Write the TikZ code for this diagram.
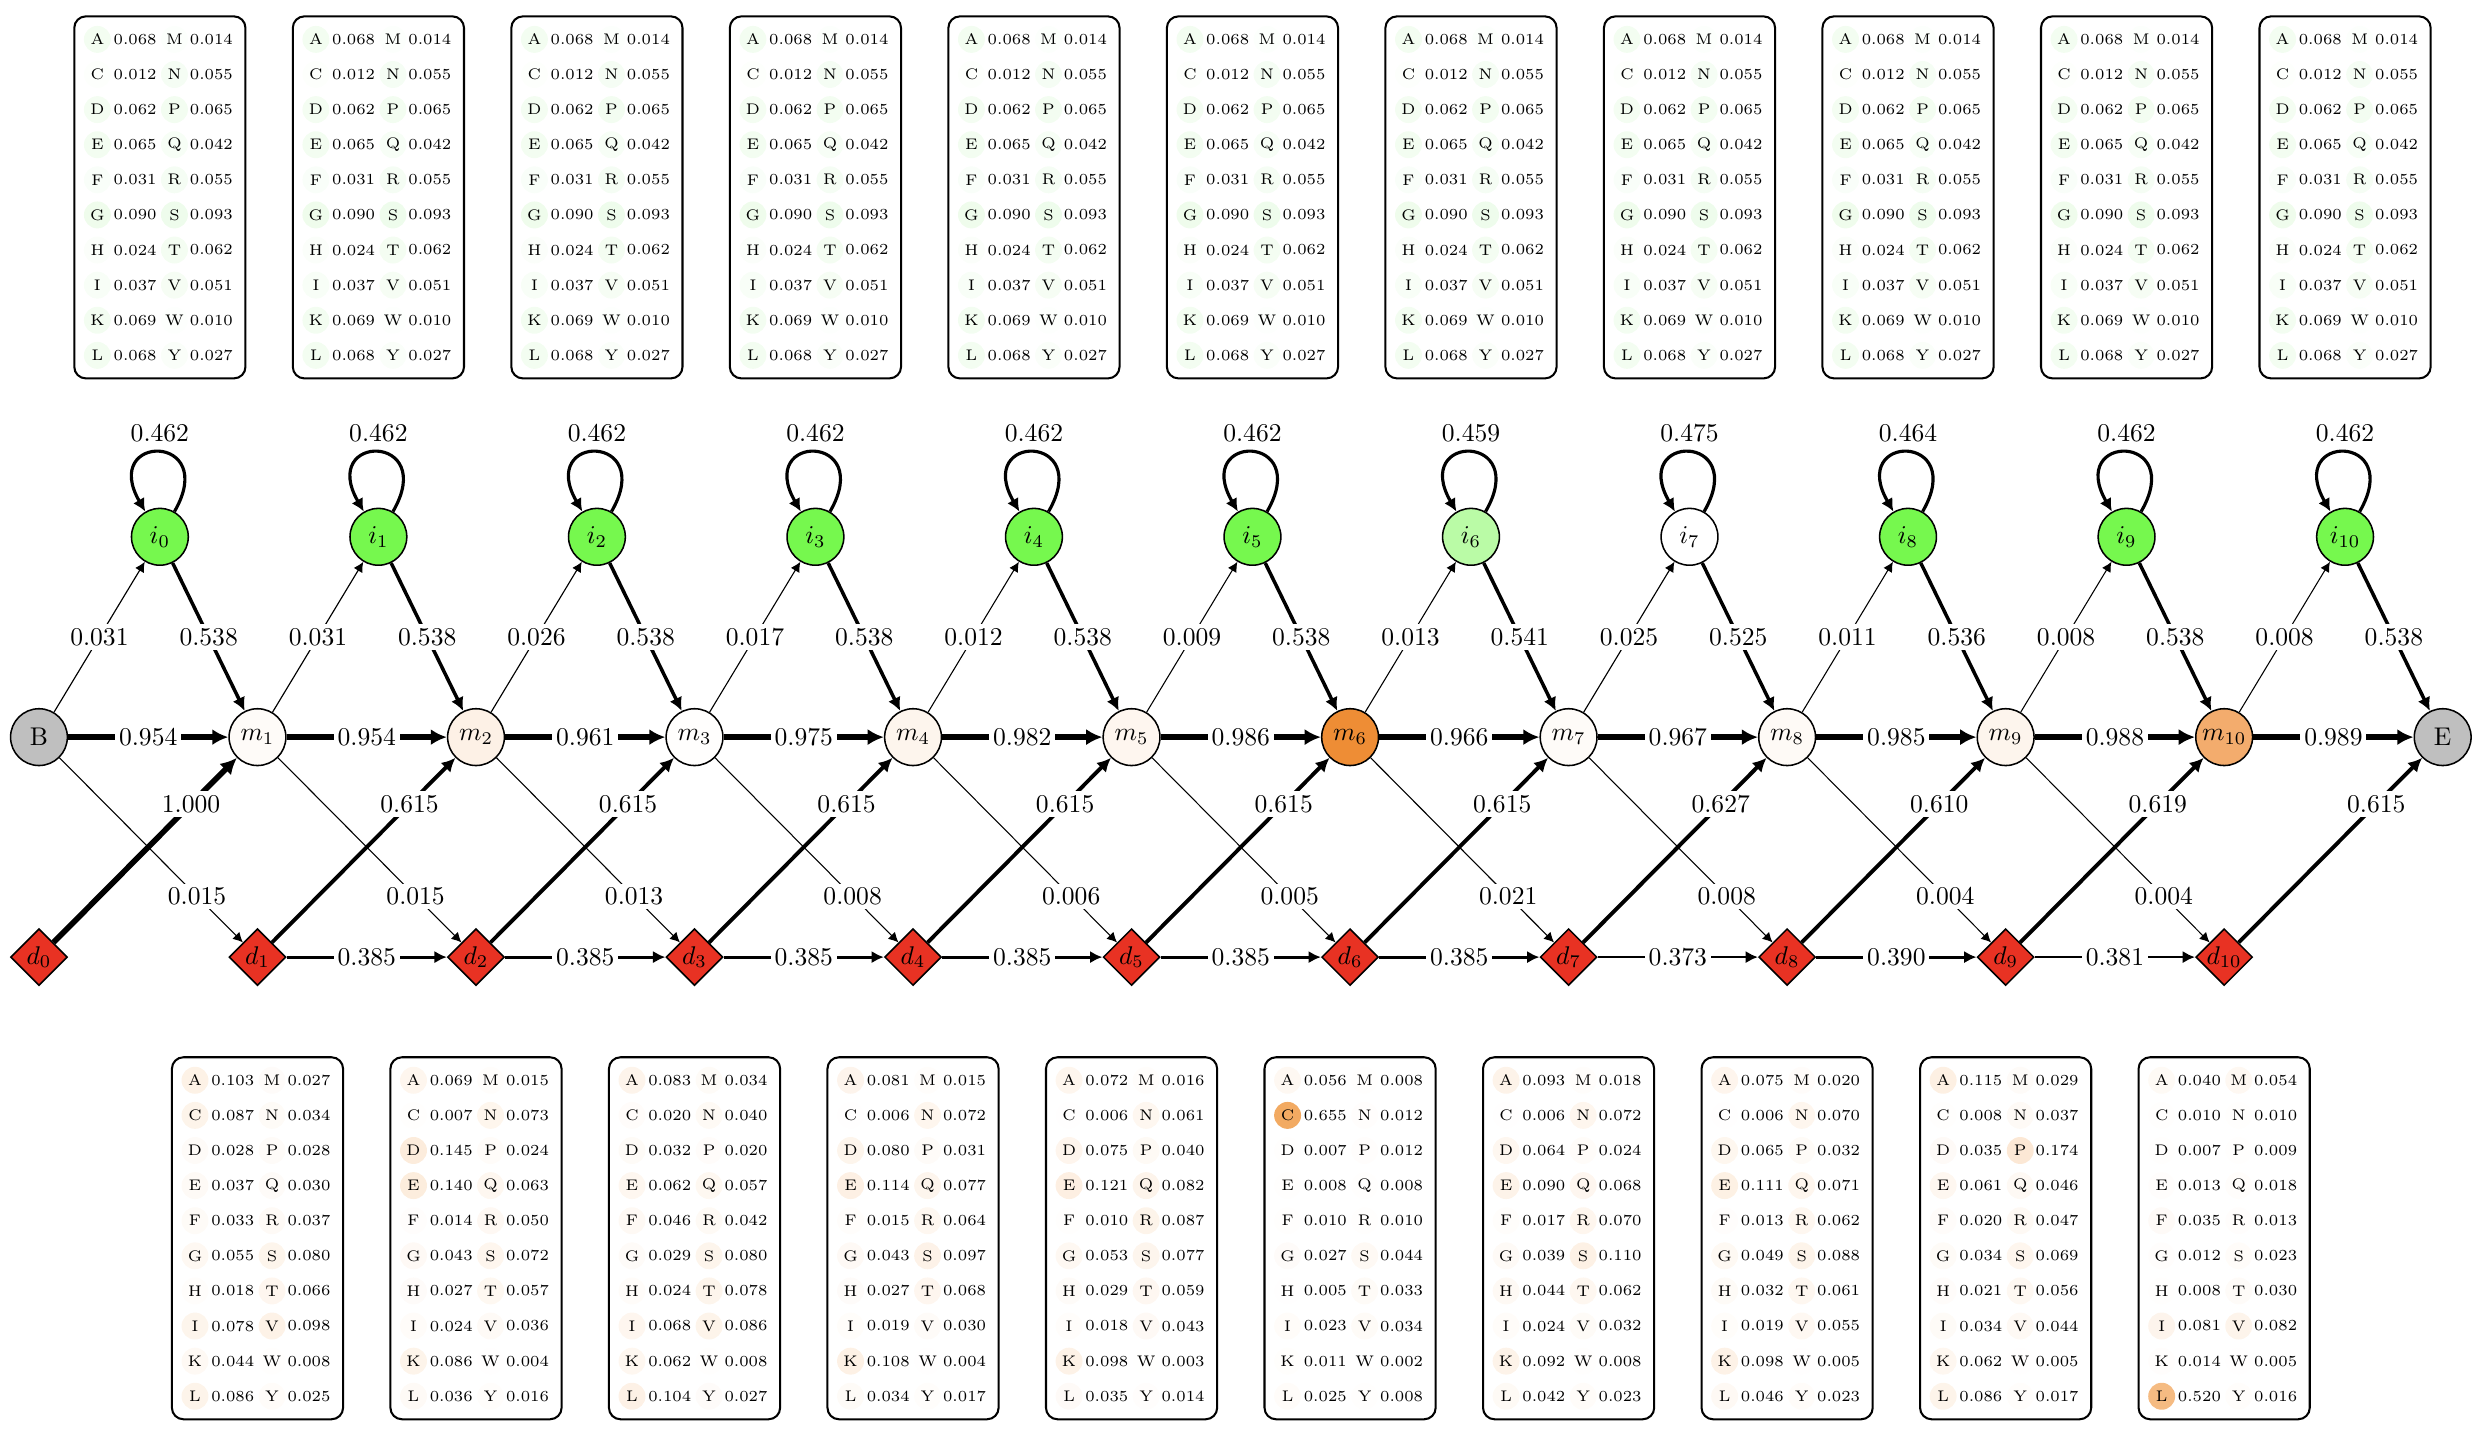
\documentclass[tikz,border=0pt]{standalone}
\usetikzlibrary{shapes.geometric, arrows.meta, positioning, calc}
\definecolor{colorIns}{RGB}{118, 248, 78}
\definecolor{colorMatch}{RGB}{236, 128, 30}
\definecolor{colorDel}{RGB}{232, 50, 35}
\definecolor{colorInsEmit}{RGB}{76, 225, 46}
\definecolor{colorMatEmit}{RGB}{235, 125, 15}
\tikzstyle{state}=[circle, draw=black, line width=0.6pt, minimum size=0.78cm, inner sep=0pt]
\tikzstyle{delete}=[diamond, draw=black, line width=0.6pt, minimum size=0.78cm, inner sep=0pt, fill=colorDel]
\tikzstyle{prob}=[fill=white, inner sep=1.5pt]
\tikzstyle{emitbox}=[rectangle, rounded corners=4.5pt, draw=black, line width=0.8pt, minimum width=2.35cm, minimum height=4.97cm]
\tikzstyle{aacirc}=[circle, minimum size=0.37cm, inner sep=0pt, font=\fontsize{6}{7}\selectfont]
\tikzstyle{aaval}=[inner sep=0pt, font=\fontsize{6}{7}\selectfont]
\tikzset{trans/.style={line width=0.4pt+1.8pt*#1, -{Latex[length=3.3pt 1.4, width=3.3pt 1.4]}}}

% emission table: name, centre, colour, list of letter/prob/letter/prob
\newcommand{\emitTable}[4]{%
	\node[emitbox] (#1) at (#2) {};
	\edef\emitList{#4}%
	\foreach \aaA/\pA/\aaB/\pB [count=\r from 0] in \emitList {
		\pgfmathsetmacro{\fA}{100*\pA}
		\pgfmathsetmacro{\fB}{100*\pB}
		\node[aacirc, fill=#3!\fA, xshift=-0.858cm, yshift=2.169cm-0.482cm*\r] at (#1) {\aaA};
		\node[aaval, xshift=-0.34cm, yshift=2.169cm-0.482cm*\r] at (#1) {\pA};
		\node[aacirc, fill=#3!\fB, xshift=0.2cm, yshift=2.169cm-0.482cm*\r] at (#1) {\aaB};
		\node[aaval, xshift=0.707cm, yshift=2.169cm-0.482cm*\r] at (#1) {\pB};
	}
}
\def\insEmitData{A/0.068/M/0.014, C/0.012/N/0.055, D/0.062/P/0.065, E/0.065/Q/0.042, F/0.031/R/0.055, G/0.090/S/0.093, H/0.024/T/0.062, I/0.037/V/0.051, K/0.069/W/0.010, L/0.068/Y/0.027}

\begin{document}
\begin{tikzpicture}

	\useasboundingbox (-0.535,-9.57) rectangle (33.595,10.12);

	% begin and end states (m0 and m11)
	\node (m0)[state, fill=gray!50] at (0,0) {B};
	\node (m11)[state, fill=gray!50] at (33,0) {E};

	% match states
	\foreach \k/\c in {1/3, 2/11, 3/1, 4/8, 5/7, 6/90, 7/3, 8/4, 9/8, 10/65}
		\node (m\k)[state, fill=colorMatch!\c] at (3*\k,0) {$m_{\k}$};

	% insert states
	\foreach \k/\c in {0/100, 1/100, 2/100, 3/100, 4/100, 5/100, 6/50, 7/0, 8/100, 9/100, 10/100}
		\node (i\k)[state, fill=colorIns!\c] at (3*\k+1.66,2.75) {$i_{\k}$};

	% delete states
	\foreach \k in {0,...,10}
		\node (d\k)[delete] at (3*\k,-3.02) {$d_{\k}$};

	% emission tables
	\foreach \k in {0,...,10}{
		\emitTable{insEmit\k}{3*\k+1.66,7.41}{colorInsEmit}{\insEmitData}
	}

	\emitTable{matEmit1}{3,-6.88}{colorMatEmit}{A/0.103/M/0.027, C/0.087/N/0.034, D/0.028/P/0.028, E/0.037/Q/0.030, F/0.033/R/0.037, G/0.055/S/0.080, H/0.018/T/0.066, I/0.078/V/0.098, K/0.044/W/0.008, L/0.086/Y/0.025}
	\emitTable{matEmit2}{6,-6.88}{colorMatEmit}{A/0.069/M/0.015, C/0.007/N/0.073, D/0.145/P/0.024, E/0.140/Q/0.063, F/0.014/R/0.050, G/0.043/S/0.072, H/0.027/T/0.057, I/0.024/V/0.036, K/0.086/W/0.004, L/0.036/Y/0.016}
	\emitTable{matEmit3}{9,-6.88}{colorMatEmit}{A/0.083/M/0.034, C/0.020/N/0.040, D/0.032/P/0.020, E/0.062/Q/0.057, F/0.046/R/0.042, G/0.029/S/0.080, H/0.024/T/0.078, I/0.068/V/0.086, K/0.062/W/0.008, L/0.104/Y/0.027}
	\emitTable{matEmit4}{12,-6.88}{colorMatEmit}{A/0.081/M/0.015, C/0.006/N/0.072, D/0.080/P/0.031, E/0.114/Q/0.077, F/0.015/R/0.064, G/0.043/S/0.097, H/0.027/T/0.068, I/0.019/V/0.030, K/0.108/W/0.004, L/0.034/Y/0.017}
	\emitTable{matEmit5}{15,-6.88}{colorMatEmit}{A/0.072/M/0.016, C/0.006/N/0.061, D/0.075/P/0.040, E/0.121/Q/0.082, F/0.010/R/0.087, G/0.053/S/0.077, H/0.029/T/0.059, I/0.018/V/0.043, K/0.098/W/0.003, L/0.035/Y/0.014}
	\emitTable{matEmit6}{18,-6.88}{colorMatEmit}{A/0.056/M/0.008, C/0.655/N/0.012, D/0.007/P/0.012, E/0.008/Q/0.008, F/0.010/R/0.010, G/0.027/S/0.044, H/0.005/T/0.033, I/0.023/V/0.034, K/0.011/W/0.002, L/0.025/Y/0.008}
	\emitTable{matEmit7}{21,-6.88}{colorMatEmit}{A/0.093/M/0.018, C/0.006/N/0.072, D/0.064/P/0.024, E/0.090/Q/0.068, F/0.017/R/0.070, G/0.039/S/0.110, H/0.044/T/0.062, I/0.024/V/0.032, K/0.092/W/0.008, L/0.042/Y/0.023}
	\emitTable{matEmit8}{24,-6.88}{colorMatEmit}{A/0.075/M/0.020, C/0.006/N/0.070, D/0.065/P/0.032, E/0.111/Q/0.071, F/0.013/R/0.062, G/0.049/S/0.088, H/0.032/T/0.061, I/0.019/V/0.055, K/0.098/W/0.005, L/0.046/Y/0.023}
	\emitTable{matEmit9}{27,-6.88}{colorMatEmit}{A/0.115/M/0.029, C/0.008/N/0.037, D/0.035/P/0.174, E/0.061/Q/0.046, F/0.020/R/0.047, G/0.034/S/0.069, H/0.021/T/0.056, I/0.034/V/0.044, K/0.062/W/0.005, L/0.086/Y/0.017}
	\emitTable{matEmit10}{30,-6.88}{colorMatEmit}{A/0.040/M/0.054, C/0.010/N/0.010, D/0.007/P/0.009, E/0.013/Q/0.018, F/0.035/R/0.013, G/0.012/S/0.023, H/0.008/T/0.030, I/0.081/V/0.082, K/0.014/W/0.005, L/0.520/Y/0.016}

	% lines and arrows
	\foreach \k/\n/\p in {0/1/0.954, 1/2/0.954, 2/3/0.961, 3/4/0.975, 4/5/0.982, 5/6/0.986, 6/7/0.966, 7/8/0.967, 8/9/0.985, 9/10/0.988, 10/11/0.989}
		\draw[trans=\p] (m\k) -- node[prob]{\p} (m\n);

	\foreach \k/\p in {0/0.031, 1/0.031, 2/0.026, 3/0.017, 4/0.012, 5/0.009, 6/0.013, 7/0.025, 8/0.011, 9/0.008, 10/0.008}
		\draw[trans=\p] (m\k) -- node[prob]{\p} (i\k);

	\foreach \k/\n/\p in {0/1/0.538, 1/2/0.538, 2/3/0.538, 3/4/0.538, 4/5/0.538, 5/6/0.538, 6/7/0.541, 7/8/0.525, 8/9/0.536, 9/10/0.538, 10/11/0.538}
		\draw[trans=\p] (i\k) -- node[prob]{\p} (m\n);

	\foreach \k/\p in {0/0.462, 1/0.462, 2/0.462, 3/0.462, 4/0.462, 5/0.462, 6/0.459, 7/0.475, 8/0.464, 9/0.462, 10/0.462}
		\draw[trans=\p] (i\k) to[out=60, in=120, distance=1.25cm] node[above]{\p} (i\k);

	\foreach \k/\n/\p in {0/1/0.015, 1/2/0.015, 2/3/0.013, 3/4/0.008, 4/5/0.006, 5/6/0.005, 6/7/0.021, 7/8/0.008, 8/9/0.004, 9/10/0.004}
		\draw[trans=\p] (m\k) -- node[prob, pos=0.75]{\p} (d\n);

	\foreach \k/\n/\p in {0/1/1.000, 1/2/0.615, 2/3/0.615, 3/4/0.615, 4/5/0.615, 5/6/0.615, 6/7/0.615, 7/8/0.627, 8/9/0.610, 9/10/0.619, 10/11/0.615}
		\draw[trans=\p] (d\k) -- node[prob, pos=0.75]{\p} (m\n);

	\foreach \k/\n/\p in {1/2/0.385, 2/3/0.385, 3/4/0.385, 4/5/0.385, 5/6/0.385, 6/7/0.385, 7/8/0.373, 8/9/0.390, 9/10/0.381}
		\draw[trans=\p] (d\k) -- node[prob]{\p} (d\n);

\end{tikzpicture}
\end{document}
